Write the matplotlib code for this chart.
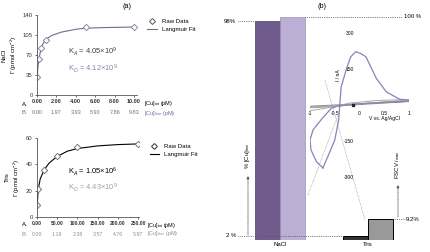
import matplotlib
matplotlib.use("Agg")
import matplotlib.pyplot as plt
from matplotlib.lines import Line2D

plt.rcParams["font.family"] = ["Liberation Sans", "DejaVu Sans"]
plt.rcParams["mathtext.fontset"] = "custom"
plt.rcParams["mathtext.rm"] = "Liberation Sans"
plt.rcParams["mathtext.it"] = "Liberation Sans:italic"

# ---- data (a) NaCl ----
nacl_x = [0.02, 0.2, 0.4, 0.9, 5.0, 10.0]
nacl_y = [31, 63, 82, 97, 119, 119]
nacl_fit_x = [0.02, 0.1, 0.2, 0.4, 0.6, 0.9, 1.5, 2.5, 4.0, 5.0, 7.0, 10.0]
nacl_fit_y = [31, 50, 63, 80, 89, 97, 104, 110, 115, 117, 118, 119]
nacl_ticks = [0, 2, 4, 6, 8, 10]
nacl_ticks_a = ["0.00", "2.00", "4.00", "6.00", "8.00", "10.00"]
nacl_ticks_b = ["0.00", "1.97", "3.93", "5.90", "7.86", "9.83"]
nacl_yticks = [0, 35, 70, 105, 140]

# ---- data (a) Tris ----
tris_x = [0.5, 3, 18, 50, 100, 250]
tris_y = [9, 21, 35.5, 46, 53, 55.5]
tris_fit_x = [0.5, 3, 8, 18, 30, 50, 75, 100, 150, 200, 250]
tris_fit_y = [9, 21, 29, 36, 41, 46, 50, 52, 54, 55, 55.5]
tris_ticks = [0, 50, 100, 150, 200, 250]
tris_ticks_a = ["0.00", "50.00", "100.00", "150.00", "200.00", "250.00"]
tris_ticks_b = ["0.00", "1.19", "2.38", "3.57", "4.76", "5.97"]
tris_yticks = [0, 20, 40, 60]

# ---- data (b) bars ----
bar_groups = ["NaCl", "Tris"]
nacl_bars = [98, 100]
tris_bars = [2, 9.2]
bar_labels_left = ["98%", "2 %"]
bar_labels_right = ["100 %", "9.2%"]

# ---- inset CV ----
cv_x = [-0.74, -0.64, -0.5, -0.42, -0.4, -0.37, -0.27, -0.18, -0.08, 0.02, 0.13, 0.34,
        0.54, 0.81, 1.0, 1.0, 0.6, 0.2, -0.2, -0.45, -0.57, -0.75, -0.94, -1.0, -0.98,
        -0.87, -0.74]
cv_y = [-262, -215, -146, -62, -4, 76, 146, 200, 222, 215, 201, 111,
        55, 24, 21, 15, 12, 8, 2, -5, -14, -55, -104, -146, -187,
        -236, -262]
tris_cv1_x = [-1, -0.5, 0, 0.5, 1, 0.5, 0, -0.5, -1]
tris_cv1_y = [-5, 0, 5, 12, 15, 8, 2, -5, -10]
tris_cv2_x = [-1, -0.6, -0.2, 0.3, 0.8, 1, 0.6, 0.1, -0.4, -1]
tris_cv2_y = [-24, -10, 8, 18, 22, 20, 14, 6, -3, -12]

W, H = 430, 252
fig = plt.figure(figsize=(W / 100, H / 100), dpi=100)


def box(l, t, r, b):
    return [l / W, 1 - b / H, (r - l) / W, (b - t) / H]


def ftext(x, y, s, **kw):
    fig.text(x / W, 1 - y / H, s, **kw)


FS = 4.3
purple = "#6f5c8c"
light_purple = "#bcaed4"


def style_ax(ax):
    for s in ["top", "right"]:
        ax.spines[s].set_visible(False)
    for s in ["left", "bottom"]:
        ax.spines[s].set_color("#555555")
        ax.spines[s].set_linewidth(0.6)
    ax.tick_params(length=1.5, width=0.5, labelsize=FS, pad=1.5, colors="#333333")


# top (NaCl)
ax1 = fig.add_axes(box(37, 15, 137, 95))
ax1.plot(nacl_fit_x, nacl_fit_y, color="#6e6e8e", lw=0.8, label="Langmuir Fit")
ax1.plot(nacl_x, nacl_y, "D", ms=3.2, mfc="white", mec="#8a8aa0", mew=0.7,
         label="Raw Data")
ax1.set_xlim(0, 10.3)
ax1.set_ylim(0, 140)
ax1.set_xticks(nacl_ticks)
ax1.set_xticklabels(nacl_ticks_a, fontweight="bold", fontsize=4.0)
ax1.set_yticks(nacl_yticks)
style_ax(ax1)
ax1.tick_params(axis="x", labelsize=4.0)
ax1.set_ylabel("NaCl\nΓ (pmol cm$^{-2}$)", fontsize=FS, labelpad=3)
for xv, s in zip(nacl_ticks, nacl_ticks_b):
    ax1.text(xv, -0.22, s, transform=ax1.get_xaxis_transform(), ha="center",
             va="center", fontsize=4.0, color="#6a6a9a")
ftext(22, 104, "A.", fontsize=FS, va="center")
ftext(22, 113, "B.", fontsize=FS, va="center", color="#6a6a9a")
ftext(144, 104, "[Cu]$_{tot}$ (pM)", fontsize=4.0, va="center")
ftext(144, 113, "[Cu]$_{free}$ (pM)", fontsize=4.0, va="center", color="#6a6a9a")
ax1.legend(handles=[Line2D([], [], ls="none", marker="D", ms=3, mfc="white",
                           mec="#555555", mew=0.7, label="Raw Data"),
                    Line2D([], [], color="#6e6e8e", lw=0.8, label="Langmuir Fit")],
           loc="upper left", bbox_to_anchor=(1.08, 0.98), frameon=False,
           fontsize=FS, handlelength=1.6, borderaxespad=0, labelspacing=0.5)
ftext(68, 52, "K$_A$ = 4.05×10$^9$", fontsize=5.4, va="center", color="#404040")
ftext(68, 69, "K$_D$ = 4.12×10$^9$", fontsize=5.4, va="center", color="#8a80b8")

# bottom (Tris)
ax2 = fig.add_axes(box(37, 138, 139, 217))
ax2.plot(tris_fit_x, tris_fit_y, color="black", lw=0.8)
ax2.plot(tris_x, tris_y, "D", ms=3.2, mfc="white", mec="#777777", mew=0.7)
ax2.set_xlim(0, 252)
ax2.set_ylim(0, 60)
ax2.set_xticks(tris_ticks)
ax2.set_xticklabels(tris_ticks_a, fontweight="bold")
ax2.set_yticks(tris_yticks)
style_ax(ax2)
ax2.tick_params(axis="x", labelsize=3.6)
ax2.set_ylabel("Tris\nΓ (pmol cm$^{-2}$)", fontsize=FS, labelpad=3)
for xv, s in zip(tris_ticks, tris_ticks_b):
    ax2.text(xv, -0.22, s, transform=ax2.get_xaxis_transform(), ha="center",
             va="center", fontsize=3.8, color="#909090")
ftext(22, 225, "A.", fontsize=FS, va="center")
ftext(22, 234, "B.", fontsize=FS, va="center", color="#909090")
ftext(147, 225, "[Cu]$_{tot}$ (pM)", fontsize=4.0, va="center")
ftext(147, 234, "[Cu]$_{free}$ (pM)", fontsize=4.0, va="center", color="#909090")
ax2.legend(handles=[Line2D([], [], ls="none", marker="D", ms=3, mfc="white",
                           mec="#333333", mew=0.7, label="Raw Data"),
                    Line2D([], [], color="black", lw=0.8, label="Langmuir Fit")],
           loc="upper left", bbox_to_anchor=(1.08, 0.96), frameon=False,
           fontsize=FS, handlelength=1.6, borderaxespad=0, labelspacing=0.5)
ftext(68, 172, "K$_A$ = 1.05×10$^6$", fontsize=5.4, va="center", color="black")
ftext(68, 188, "K$_D$ = 4.43×10$^9$", fontsize=5.4, va="center", color="#a0a0a0")

ftext(127, 6, "(a)", fontsize=5.2, ha="center", va="center")
ftext(322, 6, "(b)", fontsize=5.2, ha="center", va="center")

# (b) bars
axb = fig.add_axes(box(215, 17, 430, 240))
axb.set_xlim(215, 430)
axb.set_ylim(0, 100)
axb.axis("off")
axb.bar([267.5, 292.5], nacl_bars, width=25, color=[purple, light_purple],
        edgecolor=["#4a3d60", "#9d90b8"], linewidth=0.5)
axb.bar([355.5, 380.5], tris_bars, width=25, color=["#333333", "#999999"],
        edgecolor="black", linewidth=0.7)
dot = dict(color="#555555", lw=0.6, ls=(0, (1, 1.2)))
axb.plot([238, 255], [nacl_bars[0]] * 2, **dot)
axb.plot([305, 402], [nacl_bars[1]] * 2, **dot)
axb.plot([238, 343], [tris_bars[0]] * 2, **dot)
axb.plot([393, 405], [tris_bars[1]] * 2, **dot)
axb.text(236, nacl_bars[0], bar_labels_left[0], fontsize=FS, ha="right", va="center")
axb.text(236, tris_bars[0], bar_labels_left[1], fontsize=FS, ha="right", va="center")
axb.text(404, nacl_bars[1], bar_labels_right[0], fontsize=FS, ha="left", va="center")
axb.text(406, tris_bars[1], bar_labels_right[1], fontsize=FS, ha="left", va="center")
axb.annotate("", xy=(248, 30), xytext=(248, 1),
             arrowprops=dict(arrowstyle="-|>", color="#555555", lw=0.6,
                             ls=(0, (1, 1.2)), mutation_scale=4))
axb.annotate("", xy=(398, 26), xytext=(398, 9.2),
             arrowprops=dict(arrowstyle="-|>", color="#555555", lw=0.6,
                             ls=(0, (1, 1.2)), mutation_scale=4))
axb.text(247, 38, "% [Cu]$_{free}$", rotation=90, fontsize=FS, ha="center",
         va="center")
axb.text(398, 34, "FSCV $i_{max}$", rotation=90, fontsize=FS, ha="center",
         va="center")
for i, g in enumerate(bar_groups):
    axb.text([280, 368][i], -1.0, g, fontsize=FS, ha="center", va="top")
axb.plot([325, 365], [71.7, 9.0], color="#999999", lw=0.5, ls=(0, (1, 1)))
axb.plot([308, 338], [20.2, 56], color="#999999", lw=0.5, ls=(0, (1, 1)))

# inset CV
axi = fig.add_axes(box(310, 33, 409, 177))
axi.set_facecolor("none")
axi.plot(tris_cv1_x, tris_cv1_y, color="#8c8c8c", lw=0.7)
axi.plot(tris_cv2_x, tris_cv2_y, color="#a8a8a8", lw=0.7)
axi.plot(cv_x, cv_y, color="#8a82b8", lw=0.9)
axi.plot([-0.14], [0], "s", ms=1.8, color="#222222")
axi.set_xlim(-1, 1)
axi.set_ylim(-300, 300)
for s in ["top", "right", "left", "bottom"]:
    axi.spines[s].set_visible(False)
axi.spines["left"].set_position(("data", 0))
axi.spines["bottom"].set_position(("data", 0))
axi.set_xticks([-1, -0.5, 0, 0.5, 1])
axi.set_xticklabels(["-1", "-0.5", "0", "0.5", "1"])
axi.set_yticks([-300, -150, 150, 300])
axi.set_yticklabels(["-300", "-150", "150", "300"])
axi.tick_params(length=0, labelsize=3.6, pad=4)
axi.text(0.5, -58, "V vs. Ag/AgCl", fontsize=3.6, ha="center", va="center")
axi.text(-0.42, 125, "I / nA", fontsize=3.6, rotation=90, ha="center",
         va="center")

fig.savefig("out.png", dpi=100)
